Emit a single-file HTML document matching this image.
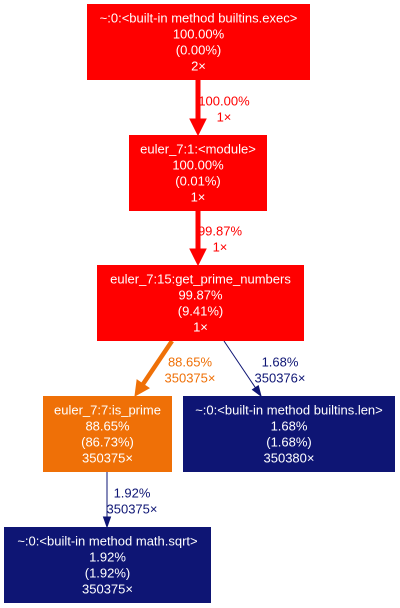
<!DOCTYPE html>
<html><head><meta charset="utf-8"><style>
html,body{margin:0;padding:0;background:#fff;width:400px;height:608px;overflow:hidden}
svg text{font-family:"Liberation Sans",Arial,sans-serif;font-size:13px;text-anchor:middle}
</style></head><body>
<svg id="g" width="400" height="608"></svg>
<script>
const nodeNames=["builtins-exec","module","get-prime-numbers","is-prime","builtins-len","math-sqrt"];
const nodeLabels=[
["~:0:<built-in method builtins.exec>","100.00%","(0.00%)","2×"],
["euler_7:1:<module>","100.00%","(0.01%)","1×"],
["euler_7:15:get_prime_numbers","99.87%","(9.41%)","1×"],
["euler_7:7:is_prime","88.65%","(86.73%)","350375×"],
["~:0:<built-in method builtins.len>","1.68%","(1.68%)","350380×"],
["~:0:<built-in method math.sqrt>","1.92%","(1.92%)","350375×"]];
const nodeBoxes=[[87,4,223,76],[129,135,138,76],[97,265,207,76],[43,396,129,76],[183,396,212,76],[4,527,207,76]];
const nodeColors=["#ff0000","#ff0000","#ff0000","#ef7007","#0e1574","#0e1574"];
const edgeNames=["exec-to-module","module-to-get-primes","get-primes-to-is-prime","get-primes-to-len","is-prime-to-sqrt"];
const edgeLabels=[["100.00%","1×"],["99.87%","1×"],["88.65%","350375×"],["1.68%","350376×"],["1.92%","350375×"]];
const edgeGeom=[[198,80,198,135,5,224,101],[198,211,198,265,5,220,231],[172,341,135,396,4.5,190,362],[224,341,261,396,1,280,362],[107,472,107,527,1,132,493]];
const edgeColors=["#ff0000","#ff0000","#ef7007","#0e1574","#0e1574"];
const NS="http://www.w3.org/2000/svg",svg=document.getElementById('g');
function mk(t,a){const e=document.createElementNS(NS,t);for(const k in a)e.setAttribute(k,a[k]);svg.appendChild(e);return e;}
edgeGeom.forEach((g,i)=>{
 const [x1,y1,x2,y2,w,lx,ly]=g,c=edgeColors[i];
 const dx=x2-x1,dy=y2-y1,L=Math.hypot(dx,dy),ux=dx/L,uy=dy/L;
 const hl=Math.max(10,w*3.2),hw=Math.max(3.5,w*1.6);
 const bx=x2-ux*hl,by=y2-uy*hl;
 const ln=mk('line',{x1:x1,y1:y1,x2:bx,y2:by,stroke:c,'stroke-width':w});
 
 
 const hd=mk('polygon',{points:`${x2},${y2} ${bx-uy*hw},${by+ux*hw} ${bx+uy*hw},${by-ux*hw}`,fill:c,stroke:c});
 
 
 edgeLabels[i].forEach((s,j)=>{
  const t=mk('text',{x:lx,y:ly+j*16+4.5,fill:c});t.textContent=s;
  
  
 });
});
nodeBoxes.forEach((b,i)=>{
 const [x,y,w,h]=b;
 const r=mk('rect',{x:x,y:y,width:w,height:h,fill:nodeColors[i]});
 
 
 nodeLabels[i].forEach((s,j)=>{
  const t=mk('text',{x:x+w/2,y:y+h/2-24+j*16+4.5,fill:'#fff'});t.textContent=s;
  
  
 });
});
</script>
</body></html>
